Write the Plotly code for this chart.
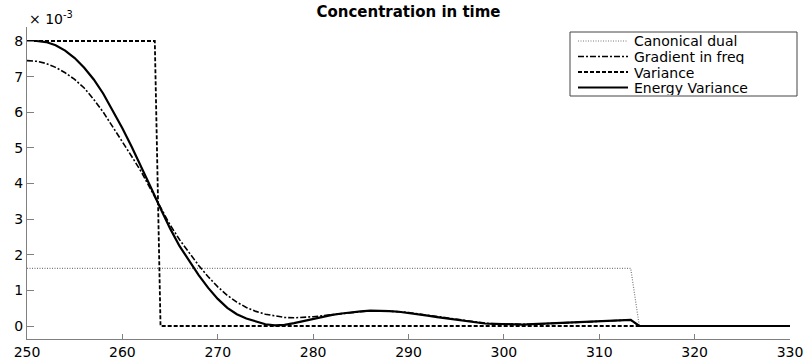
import plotly.graph_objects as go

# ---- data (concentration values in units of 1e-3) ----
series_names = ["Canonical dual", "Gradient in freq", "Variance", "Energy Variance"]

# shared time grid for the two smooth curves
t_smooth = list(range(250, 314)) + [313.3, 314.2, 330]

energy_variance = [
    8.00, 8.00, 7.97, 7.88, 7.73, 7.52, 7.25, 6.92, 6.52, 6.05,   # 250-259
    5.55, 5.02, 4.47, 3.88, 3.30, 2.74, 2.24, 1.82, 1.43, 1.07,   # 260-269
    0.76, 0.51, 0.33, 0.21, 0.12, 0.05, 0.02, 0.03, 0.08, 0.14,   # 270-279
    0.20, 0.26, 0.31, 0.35, 0.39, 0.41, 0.43, 0.43, 0.42, 0.40,   # 280-289
    0.37, 0.33, 0.29, 0.25, 0.21, 0.17, 0.13, 0.10, 0.07, 0.06,   # 290-299
    0.05, 0.04, 0.04, 0.05, 0.06, 0.07, 0.08, 0.10, 0.11, 0.13,   # 300-309
    0.14, 0.15, 0.16, 0.17,                                       # 310-313
    0.17, 0.00, 0.00,                                             # 313.3, 314.2, 330
]

gradient_in_freq = [
    7.45, 7.43, 7.37, 7.26, 7.11, 6.92, 6.68, 6.36, 6.00, 5.60,   # 250-259
    5.17, 4.75, 4.32, 3.82, 3.32, 2.84, 2.42, 2.05, 1.70, 1.38,   # 260-269
    1.10, 0.86, 0.67, 0.52, 0.41, 0.33, 0.28, 0.24, 0.23, 0.24,   # 270-279
    0.26, 0.29, 0.32, 0.36, 0.39, 0.41, 0.43, 0.43, 0.42, 0.40,   # 280-289
    0.38, 0.34, 0.30, 0.26, 0.22, 0.18, 0.14, 0.11, 0.08, 0.06,   # 290-299
    0.05, 0.05, 0.05, 0.05, 0.06, 0.07, 0.09, 0.10, 0.12, 0.13,   # 300-309
    0.14, 0.15, 0.16, 0.17,                                       # 310-313
    0.17, 0.00, 0.00,                                             # 313.3, 314.2, 330
]

t_variance = [250, 263.4, 264.0, 330]
variance = [8.0, 8.0, 0.0, 0.0]

t_canonical = [250, 313.3, 314.2, 330]
canonical_dual = [1.62, 1.62, 0.0, 0.0]

SCALE = 1e-3
x_ticks = [250, 260, 270, 280, 290, 300, 310, 320, 330]
y_ticks = [0, 1, 2, 3, 4, 5, 6, 7, 8]

# ---- styling ----
FONT = "DejaVu Sans"
styles = {
    "Canonical dual": dict(color="#7a7a7a", width=1.2, dash="1px,1.5px"),
    "Gradient in freq": dict(color="black", width=1.6, dash="6px,2px,2px,2px"),
    "Variance": dict(color="black", width=1.8, dash="4px,2px"),
    "Energy Variance": dict(color="black", width=2.2, dash="solid"),
}
series = {
    "Canonical dual": (t_canonical, canonical_dual),
    "Gradient in freq": (t_smooth, gradient_in_freq),
    "Variance": (t_variance, variance),
    "Energy Variance": (t_smooth, energy_variance),
}

W, H = 811, 360
ML, MR, MT, MB = 27, 21, 27, 21
PW, PH = W - ML - MR, H - MT - MB


def px_x(px):
    return (px - ML) / PW


def px_y(py):
    return (H - MB - py) / PH


fig = go.Figure()
for name in series_names:
    xs, ys = series[name]
    fig.add_trace(go.Scatter(
        x=xs, y=[v * SCALE for v in ys], mode="lines", name=name,
        line=styles[name], showlegend=False, hoverinfo="skip",
    ))

# boxed key in the upper right corner
shapes = [dict(type="rect", xref="paper", yref="paper",
               x0=px_x(570), x1=px_x(797), y0=px_y(96), y1=px_y(32),
               line=dict(color="#444", width=1), fillcolor="white", layer="above")]
annotations = []
row_py = [41, 56.5, 72, 87.5]
for name, py in zip(series_names, row_py):
    st = styles[name]
    shapes.append(dict(type="line", xref="paper", yref="paper",
                       x0=px_x(578), x1=px_x(628), y0=px_y(py), y1=px_y(py),
                       line=dict(color=st["color"], width=st["width"], dash=st["dash"]),
                       layer="above"))
    annotations.append(dict(xref="paper", yref="paper", x=px_x(632), y=px_y(py),
                            xanchor="left", yanchor="middle", showarrow=False,
                            text=name, height=15, valign="middle",
                            font=dict(family=FONT, size=14, color="black")))

# exponent label for the y axis
annotations.append(dict(xref="paper", yref="paper", x=0, y=1, xanchor="left",
                        yanchor="bottom", showarrow=False, yshift=-2,
                        text="× 10<sup>-3</sup>",
                        font=dict(family=FONT, size=14, color="black")))

fig.update_layout(
    width=W, height=H,
    margin=dict(l=ML, r=MR, t=MT, b=MB, pad=0),
    paper_bgcolor="white", plot_bgcolor="white",
    title=dict(text="<b>Concentration in time</b>", x=(ML + PW / 2) / W, xanchor="center",
               y=1 - 12 / H, yanchor="middle", yref="container",
               font=dict(family=FONT, size=15, color="black")),
    xaxis=dict(range=[250, 330], tickvals=x_ticks, ticktext=[str(v) for v in x_ticks],
               showline=True, linecolor="#808080", linewidth=1, mirror=False,
               ticks="inside", ticklen=5, tickcolor="#808080", showgrid=False,
               zeroline=False, automargin=False,
               tickfont=dict(family=FONT, size=14, color="black")),
    yaxis=dict(range=[-0.365 * SCALE, 8.393 * SCALE],
               tickvals=[v * SCALE for v in y_ticks], ticktext=[str(v) for v in y_ticks],
               showline=True, linecolor="#808080", linewidth=1, mirror=False,
               ticks="inside", ticklen=7, tickcolor="#808080", showgrid=False,
               zeroline=False, automargin=False,
               tickfont=dict(family=FONT, size=14, color="black")),
    shapes=shapes, annotations=annotations,
)

fig.write_html("out.html")
